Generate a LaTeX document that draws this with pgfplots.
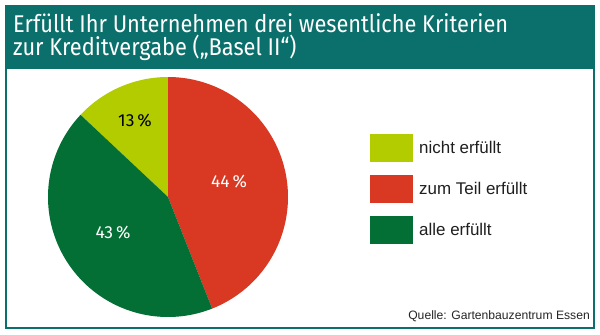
\documentclass[border=0pt]{standalone}
\usepackage{fontspec}
\setmainfont{Liberation Sans}
\newfontfamily\titlefont[FakeStretch=0.9]{Fira Sans}
\newfontfamily\labelfont{Fira Sans}
\usepackage{pgfplots}
\pgfplotsset{compat=1.18}
\definecolor{bandcol}{RGB}{11,112,107}
\definecolor{lgreen}{RGB}{178,204,0}
\definecolor{pred}{RGB}{217,57,35}
\definecolor{dgreen}{RGB}{4,111,52}
% shares in percent
\def\va{13}\def\vb{44}\def\vc{43}
\pgfmathsetmacro\aS{90}
\pgfmathsetmacro\aE{90+\va*3.6}
\pgfmathsetmacro\bS{90-\vb*3.6}
\pgfmathsetmacro\cE{90+(\va+\vc)*3.6}
\begin{document}
\begin{tikzpicture}
\begin{axis}[
  scale only axis, width=600bp, height=334bp,
  xmin=0, xmax=600, ymin=0, ymax=334, y dir=reverse,
  hide axis, clip=false,
  legend style={at={(axis cs:370,134)}, anchor=north west, draw=none, fill=none,
    font=\fontsize{17}{20}\selectfont, text=black!88, row sep=13bp, column sep=6bp,
    inner sep=0pt, nodes={inner sep=0pt}},
  legend cell align=left,
  legend image code/.code={\fill[#1] (0bp,-14bp) rectangle (43bp,14bp);},
]
\fill[white] (axis cs:0,0) rectangle (axis cs:600,334);
\fill[bandcol] (axis cs:5,5) rectangle (axis cs:595,69);
\draw[bandcol, line width=2bp] (axis cs:6,68) -- (axis cs:6,328) -- (axis cs:594,328) -- (axis cs:594,68);
\addplot[fill=lgreen, draw=none, domain=\aS:\aE, samples=60] ({168+120*cos(x)},{197-120*sin(x)}) -- (axis cs:168,197) -- cycle;
\addlegendentry{nicht erfüllt}
\addplot[fill=pred, draw=none, domain=\bS:\aS, samples=120] ({168+120*cos(x)},{197-120*sin(x)}) -- (axis cs:168,197) -- cycle;
\addlegendentry{zum Teil erfüllt}
\addplot[fill=dgreen, draw=none, domain=\aE:\cE, samples=120] ({168+120*cos(x)},{197-120*sin(x)}) -- (axis cs:168,197) -- cycle;
\addlegendentry{alle erfüllt}
\node[font=\labelfont\fontsize{17.5}{20}\selectfont, text=black] at (axis cs:135,121) {13\,\%};
\node[font=\labelfont\fontsize{17.5}{20}\selectfont, text=white] at (axis cs:229,182) {44\,\%};
\node[font=\labelfont\fontsize{17.5}{20}\selectfont, text=white] at (axis cs:113,233) {43\,\%};
\node[anchor=base west, inner sep=0pt, text=white, font=\titlefont\fontsize{24.3}{23}\selectfont] at (axis cs:13,32) {Erfüllt Ihr Unternehmen drei wesentliche Kriterien};
\node[anchor=base west, inner sep=0pt, text=white, font=\titlefont\fontsize{24.3}{23}\selectfont] at (axis cs:13,55) {zur Kreditvergabe („Basel II“)};
\node[anchor=base east, inner sep=0pt, font=\fontsize{12.2}{14}\selectfont, text=black!85] at (axis cs:590,319) {Quelle: Gartenbauzentrum Essen};
\end{axis}
\end{tikzpicture}
\end{document}
